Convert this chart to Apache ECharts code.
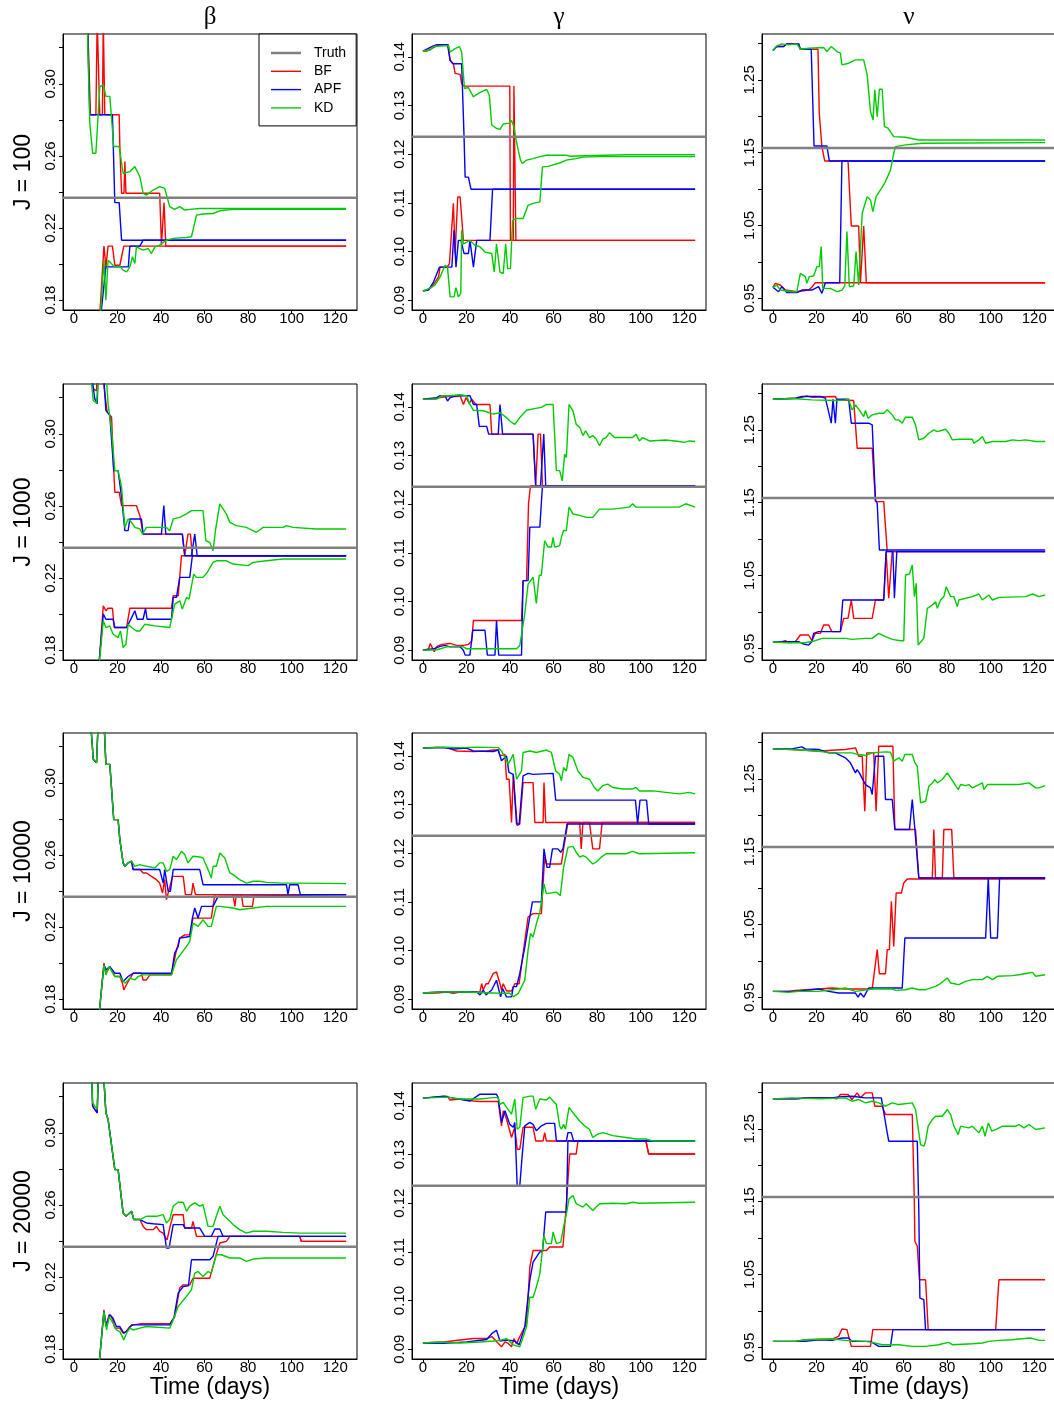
<!DOCTYPE html>
<html><head><meta charset="utf-8">
<script src="https://cdn.jsdelivr.net/npm/echarts@6/dist/echarts.min.js"></script>
<style>html,body{margin:0;padding:0;background:#fff}#c{width:1054px;height:1401px}</style>
</head><body><div id="c"></div>
<script>
// ---------------- DATA (day, value) ----------------
const X_TICKS = [0,20,40,60,80,100,120];
const BETA_TICKS = [0.18,0.20,0.22,0.24,0.26,0.28,0.30,0.32];
const BETA_LABELS = [0.18,0.22,0.26,0.30];
const GAMMA_TICKS = [0.09,0.10,0.11,0.12,0.13,0.14];
const GAMMA_LABELS = [0.09,0.10,0.11,0.12,0.13,0.14];
const NU_TICKS = [0.95,1.00,1.05,1.10,1.15,1.20,1.25,1.30];
const NU_LABELS = [0.95,1.05,1.15,1.25];
const PARAMS = ['β','γ','ν'];
const J_LABELS = ['J = 100','J = 1000','J = 10000','J = 20000'];
const TRUTH = [0.2368, 0.1236, 1.1565];
const METHODS = ['BF','APF','KD'];

// beta, J=100
const b100_bf_hi = [[0,0.42],[6.3,0.335],[7.6,0.2828],[10.1,0.2828],[10.7,0.335],[11.3,0.335],[11.9,0.2828],[13.1,0.2828],[13.5,0.335],[13.8,0.335],[14.2,0.2828],[20.8,0.2828],[21.1,0.2652],[21.9,0.2393],[23.0,0.2393],[23.4,0.2569],[23.9,0.2393],[39.4,0.2393],[40.2,0.2106],[41.0,0.2106],[41.4,0.2341],[42.2,0.21],[125,0.21]];
const b100_bf_lo = [[0,0.14],[11.9,0.172],[13.8,0.21],[14.7,0.1985],[15.7,0.21],[17.7,0.21],[18.8,0.1994],[21.1,0.1994],[22.9,0.21],[125,0.21]];
const b100_apf_hi = [[0,0.42],[6.2,0.335],[7.3,0.2828],[17.7,0.2828],[18.8,0.2341],[20.8,0.2341],[21.9,0.2133],[125,0.2133]];
const b100_apf_lo = [[0,0.14],[12.4,0.172],[14.7,0.1985],[25.0,0.1985],[25.7,0.21],[30.3,0.21],[31.8,0.2133],[125,0.2133]];
const b100_kd_hi = [[0,0.42],[6.1,0.335],[7.3,0.2781],[8.6,0.2615],[10.1,0.2615],[11.9,0.2985],[13.5,0.2994],[14.7,0.293],[16.5,0.293],[18.3,0.2652],[20.8,0.2652],[21.4,0.2661],[22.6,0.2504],[25.7,0.2513],[28.0,0.2541],[30.3,0.2485],[31.8,0.2393],[33.3,0.2383],[36.4,0.2411],[39.4,0.243],[41.7,0.242],[44.0,0.2319],[46.3,0.2304],[48.6,0.2319],[50.9,0.2300],[53.2,0.2304],[57.8,0.2309],[125,0.2309]];
const b100_kd_lo = [[0,0.14],[12.2,0.172],[13.8,0.2022],[14.7,0.18],[15.7,0.2022],[18.8,0.1985],[21.1,0.1989],[22.6,0.1967],[24.2,0.1957],[25.7,0.1985],[26.9,0.2041],[28.0,0.2004],[28.7,0.2096],[31.8,0.2078],[34.1,0.2087],[35.6,0.2059],[37.2,0.2096],[39.4,0.2106],[42.5,0.2133],[45.6,0.2143],[51.7,0.2148],[54.0,0.2152],[56.3,0.2272],[59.3,0.2278],[63.9,0.2281],[67.0,0.2296],[73.1,0.2304],[125,0.2304]];

// gamma, J=100
const g100_bf_hi = [[0,0.1412],[1.8,0.1412],[4.1,0.1417],[5.6,0.1421],[7.9,0.1424],[11.7,0.1425],[12.5,0.1393],[14.0,0.1386],[14.8,0.1366],[17.1,0.1364],[17.8,0.1345],[18.9,0.134],[39.9,0.134],[40.2,0.1023],[41.5,0.1023],[41.8,0.134],[42.2,0.134],[42.7,0.1023],[125,0.1023]];
const g100_bf_lo = [[0,0.0919],[1.8,0.0921],[4.1,0.0927],[7.2,0.0948],[7.9,0.0968],[11.0,0.0968],[12.2,0.0975],[14.0,0.1099],[14.8,0.0996],[16.0,0.1112],[17.1,0.1112],[18.6,0.1023],[125,0.1023]];
const g100_apf_hi = [[0,0.1412],[4.1,0.1421],[6.4,0.1425],[11.3,0.1425],[12.5,0.1393],[13.7,0.1386],[17.8,0.1386],[18.9,0.1236],[19.4,0.1153],[20.9,0.1153],[22.1,0.1128],[125,0.1128]];
const g100_apf_lo = [[0,0.0919],[2.6,0.0921],[4.9,0.0938],[7.6,0.0968],[13.3,0.0968],[14.3,0.1044],[15.2,0.0968],[16.3,0.1023],[17.5,0.1023],[18.9,0.0996],[20.9,0.0996],[21.6,0.1023],[23.2,0.0968],[24.7,0.1023],[30.8,0.1023],[32.0,0.1128],[125,0.1128]];
const g100_kd_hi = [[0,0.1412],[3.4,0.1414],[4.9,0.1421],[9.5,0.1423],[11.7,0.1423],[12.5,0.141],[14.8,0.1417],[16.8,0.1421],[17.8,0.141],[19.1,0.1335],[20.9,0.1337],[23.2,0.1318],[23.9,0.1314],[25.5,0.1325],[27.7,0.133],[29.3,0.1333],[30.5,0.1321],[31.6,0.126],[33.8,0.1253],[35.4,0.1251],[36.9,0.1262],[39.9,0.1264],[40.7,0.127],[41.8,0.1256],[43.0,0.1225],[43.8,0.1222],[44.8,0.1188],[45.7,0.1181],[47.6,0.1188],[50.6,0.1191],[53.7,0.1195],[56.7,0.1198],[65.9,0.1198],[67.4,0.1196],[74.7,0.1197],[93.3,0.1199],[125,0.1199]];
const g100_kd_lo = [[0,0.0919],[1.8,0.0922],[5.6,0.0931],[7.9,0.0948],[10.2,0.0972],[11.3,0.0968],[12.5,0.0907],[14.3,0.0907],[15.2,0.0926],[16.3,0.0907],[17.4,0.0914],[17.8,0.1044],[18.6,0.1016],[21.6,0.1023],[23.9,0.1013],[26.2,0.101],[28.5,0.0999],[31.6,0.0996],[32.8,0.0958],[33.8,0.1016],[35.4,0.0958],[36.9,0.0955],[38.0,0.1016],[38.9,0.0965],[40.2,0.0965],[41.2,0.1064],[43.0,0.1068],[46.0,0.1068],[48.3,0.1095],[50.6,0.1099],[53.7,0.1102],[54.9,0.1174],[57.5,0.1175],[62.8,0.1182],[65.9,0.1188],[70.4,0.1191],[73.5,0.1194],[81.1,0.1195],[125,0.1195]];

// nu, J=100
const n100_bf_hi = [[0,1.2903],[1.8,1.2958],[4.9,1.2958],[6.4,1.2995],[11.8,1.2995],[12.6,1.2921],[20.7,1.2921],[21.3,1.2042],[22.5,1.1584],[23.8,1.1387],[34.5,1.1387],[36.0,1.0494],[39.4,1.0494],[40.2,0.9715],[41.0,0.9715],[41.7,1.0494],[42.9,0.9715],[125,0.9715]];
const n100_bf_lo = [[0,0.9652],[1.1,0.9706],[3.4,0.9683],[5.7,0.9614],[11.0,0.9591],[16.4,0.9614],[17.9,0.9652],[19.5,0.9715],[125,0.9715]];
const n100_apf_hi = [[0,1.2903],[1.8,1.2958],[4.9,1.2958],[6.4,1.2995],[11.8,1.2995],[12.6,1.2921],[17.6,1.2921],[18.9,1.1593],[24.8,1.1593],[25.9,1.1387],[125,1.1387]];
const n100_apf_lo = [[0,0.9652],[2.6,0.9591],[4.1,0.9661],[6.4,0.9578],[11.0,0.9578],[13.3,0.9614],[17.9,0.9614],[21.0,0.9661],[22.5,0.9568],[24.1,0.9715],[30.7,0.9715],[31.7,1.1387],[125,1.1387]];
const n100_kd_hi = [[0,1.2903],[1.8,1.2967],[4.1,1.2995],[7.2,1.2981],[11.0,1.2995],[12.6,1.2921],[16.4,1.2935],[23.3,1.2944],[24.8,1.2889],[26.8,1.2958],[29.4,1.2889],[31.0,1.2866],[31.7,1.2706],[34.8,1.2729],[37.9,1.2775],[41.7,1.2775],[43.3,1.2569],[44.8,1.2065],[46.0,1.195],[46.8,1.2363],[47.9,1.1996],[48.9,1.2372],[50.2,1.2372],[51.2,1.1859],[52.9,1.1836],[55.5,1.1721],[60.9,1.1712],[67.0,1.1675],[125,1.1675]];
const n100_kd_lo = [[0,0.9652],[1.8,0.9683],[3.4,0.9614],[8.7,0.9591],[11.0,0.9591],[12.6,0.9843],[14.9,0.9798],[15.6,0.9706],[16.7,0.9798],[18.7,0.9807],[20.2,0.9935],[21.3,0.9935],[22.2,1.021],[22.9,0.9637],[26.4,0.9637],[29.4,0.9591],[31.7,0.9614],[33.0,0.967],[34.0,1.0416],[35.1,0.9661],[37.1,0.967],[38.2,1.0141],[39.4,0.9683],[40.2,0.9683],[41.0,1.0668],[43.3,1.0897],[44.8,1.0851],[45.9,1.0691],[47.4,1.0897],[49.4,1.0988],[51.7,1.1103],[54.0,1.1263],[55.5,1.1492],[56.3,1.1584],[60.9,1.1607],[68.6,1.163],[125,1.1639]];

// beta, J=1000
const b1k_bf_hi = [[0,0.42],[7.3,0.335],[8.9,0.325],[10.4,0.3237],[10.7,0.335],[13.1,0.335],[14.2,0.3222],[15.3,0.312],[17.3,0.3093],[18.3,0.2796],[18.8,0.2676],[20.8,0.2676],[21.9,0.2602],[28.7,0.2602],[30.3,0.2546],[31.8,0.2444],[49.8,0.2444],[50.9,0.2324],[52.4,0.2444],[53.5,0.2444],[54.4,0.2324],[125,0.2324]];
const b1k_bf_lo = [[0,0.14],[11.5,0.172],[13.5,0.2046],[14.7,0.2019],[15.7,0.2033],[17.7,0.2033],[18.5,0.1926],[24.2,0.1926],[25.7,0.2033],[44.8,0.2033],[45.6,0.2102],[47.9,0.2102],[49.4,0.2324],[125,0.2324]];
const b1k_apf_hi = [[0,0.42],[7.8,0.335],[9.6,0.3194],[10.7,0.3167],[11.2,0.335],[13.5,0.335],[14.7,0.313],[16.5,0.3102],[18.3,0.2796],[20.3,0.2796],[21.9,0.2648],[23.4,0.2463],[24.9,0.2463],[25.7,0.2528],[31.0,0.2528],[31.8,0.2444],[40.2,0.2444],[41.3,0.2602],[42.2,0.2444],[49.8,0.2444],[50.9,0.2324],[54.0,0.2324],[55.5,0.2444],[56.6,0.2324],[125,0.2324]];
const b1k_apf_lo = [[0,0.14],[11.5,0.172],[13.5,0.2],[14.7,0.1972],[18.0,0.1972],[18.8,0.1926],[24.2,0.1926],[26.5,0.1981],[27.2,0.1972],[28.0,0.2019],[29.1,0.1972],[31.8,0.1972],[32.9,0.2033],[33.6,0.1972],[44.8,0.1972],[45.6,0.2093],[47.1,0.2093],[48.6,0.2204],[53.2,0.2204],[54.4,0.2324],[125,0.2324]];
const b1k_kd_hi = [[0,0.42],[7.5,0.335],[8.9,0.3185],[10.4,0.317],[11.5,0.335],[14.7,0.335],[15.7,0.3167],[17.3,0.3019],[18.8,0.2796],[20.3,0.2796],[21.9,0.2704],[23.4,0.2481],[24.9,0.2528],[26.5,0.2509],[28.0,0.2481],[30.3,0.2472],[31.5,0.2444],[33.3,0.2481],[42.5,0.2481],[44.0,0.2463],[45.6,0.2528],[48.6,0.2537],[51.7,0.2556],[54.0,0.2574],[59.3,0.2574],[60.6,0.2407],[62.4,0.2398],[63.9,0.2352],[65.1,0.2472],[65.7,0.2463],[67.0,0.2611],[70.0,0.2556],[71.6,0.2509],[74.6,0.2491],[79.2,0.2481],[83.8,0.2454],[86.9,0.2481],[96.0,0.2481],[97.6,0.2491],[100.6,0.2481],[111.3,0.2472],[125,0.2472]];
const b1k_kd_lo = [[0,0.14],[11.6,0.172],[13.5,0.1963],[14.7,0.1926],[16.5,0.1935],[18.0,0.1889],[20.3,0.187],[21.4,0.1907],[22.6,0.1815],[23.9,0.1833],[24.9,0.1944],[26.5,0.1926],[28.7,0.1907],[30.3,0.1907],[32.6,0.1944],[37.2,0.1935],[44.0,0.1926],[46.3,0.2056],[48.6,0.2074],[49.8,0.2028],[51.7,0.2093],[52.9,0.2083],[55.0,0.2222],[56.3,0.2204],[59.3,0.2204],[61.2,0.2231],[63.9,0.2287],[65.4,0.2296],[70.0,0.2296],[73.1,0.2278],[80.0,0.2269],[82.3,0.2287],[88.4,0.2296],[96.0,0.2306],[125,0.2306]];

// gamma, J=1000
const g1k_bf_hi = [[0,0.1416],[4.9,0.1416],[7.9,0.1419],[11.0,0.1421],[15.5,0.1421],[17.1,0.1423],[18.6,0.1405],[19.8,0.1419],[21.3,0.1407],[22.4,0.1416],[24.4,0.1405],[30.8,0.1405],[31.6,0.1344],[50.6,0.1344],[51.8,0.1238],[52.9,0.1344],[54.0,0.1344],[54.9,0.1238],[125,0.1238]];
const g1k_bf_lo = [[0,0.09],[2.6,0.0903],[3.4,0.0914],[5.2,0.0897],[6.4,0.0908],[8.7,0.0912],[12.5,0.0914],[15.5,0.091],[18.6,0.091],[20.9,0.0912],[22.4,0.0919],[23.2,0.0961],[45.3,0.0961],[46.0,0.1043],[47.6,0.1043],[48.5,0.1201],[49.4,0.1238],[125,0.1238]];
const g1k_apf_hi = [[0,0.1416],[6.4,0.1419],[7.9,0.1423],[10.2,0.1423],[11.3,0.1412],[12.5,0.1419],[15.5,0.1423],[21.6,0.1423],[23.2,0.1405],[24.7,0.1405],[25.9,0.136],[29.3,0.136],[30.2,0.1344],[34.6,0.1344],[35.4,0.1405],[36.6,0.1344],[50.6,0.1344],[51.8,0.1238],[54.0,0.1238],[55.5,0.1344],[56.4,0.1238],[125,0.1238]];
const g1k_apf_lo = [[0,0.09],[4.9,0.0903],[7.9,0.0908],[10.2,0.0910],[12.5,0.0907],[17.1,0.0907],[18.6,0.09],[19.4,0.089],[21.6,0.089],[22.9,0.0941],[28.5,0.0941],[29.6,0.089],[33.1,0.089],[33.8,0.0961],[34.8,0.089],[45.3,0.089],[46.0,0.1043],[48.3,0.1043],[49.1,0.1153],[53.7,0.1153],[54.9,0.1238],[125,0.1238]];
const g1k_kd_hi = [[0,0.1416],[6.4,0.1416],[8.7,0.1423],[12.5,0.1423],[17.1,0.1425],[20.1,0.1423],[21.6,0.1405],[23.2,0.1393],[27.7,0.1392],[32.3,0.1385],[35.4,0.1388],[38.4,0.1378],[39.9,0.1371],[42.2,0.1364],[44.5,0.1378],[47.6,0.1393],[51.8,0.1397],[54.4,0.1399],[56.7,0.1405],[59.8,0.1405],[61.3,0.1269],[62.8,0.1269],[64.0,0.1248],[65.1,0.1303],[65.9,0.1296],[67.1,0.1405],[68.9,0.1392],[70.4,0.1364],[72.0,0.1358],[73.5,0.1341],[74.7,0.1351],[76.5,0.1337],[78.0,0.1341],[79.6,0.1334],[81.1,0.132],[82.6,0.1334],[84.1,0.1337],[85.7,0.1347],[88.0,0.1337],[96.3,0.1337],[97.9,0.1344],[99.4,0.133],[100.9,0.1337],[104.0,0.133],[111.6,0.1332],[117.7,0.1329],[120.0,0.1327],[122.3,0.133],[125,0.1329]];
const g1k_kd_lo = [[0,0.09],[6.4,0.0901],[11.0,0.0907],[14.0,0.0908],[17.1,0.0908],[18.6,0.0907],[20.1,0.0903],[43.0,0.0903],[44.5,0.091],[46.8,0.0975],[48.3,0.1036],[50.6,0.1050],[52.1,0.0996],[53.4,0.1054],[54.4,0.1054],[55.9,0.1125],[57.5,0.1112],[59.0,0.1112],[59.8,0.1132],[60.5,0.1112],[62.8,0.1115],[63.6,0.1132],[64.6,0.1146],[65.9,0.1146],[67.1,0.1194],[68.9,0.118],[72.0,0.1177],[75.0,0.1173],[78.0,0.1173],[81.1,0.119],[87.2,0.119],[94.8,0.1194],[96.3,0.1201],[97.9,0.1194],[117.7,0.1194],[120.7,0.1201],[125,0.1194]];

// nu, J=1000
const n1k_bf_hi = [[0,1.2921],[11.8,1.2935],[15.6,1.2967],[17.9,1.2949],[28.7,1.2958],[29.4,1.2912],[37.1,1.2903],[38.7,1.2248],[45.6,1.2248],[47.1,1.1515],[50.9,1.1515],[52.5,1.0828],[125,1.0828]];
const n1k_bf_lo = [[0,0.9591],[4.1,0.9591],[5.7,0.9605],[7.2,0.9577],[10.3,0.9591],[12.6,0.9683],[16.4,0.9683],[17.9,0.9605],[19.5,0.9706],[21.8,0.9706],[23.3,0.982],[25.6,0.982],[27.1,0.9729],[31.0,0.9729],[32.5,0.9912],[34.5,0.9912],[36.0,1.0164],[37.1,0.9912],[45.6,0.9912],[47.1,1.0164],[50.9,1.0164],[52.0,1.0828],[52.6,1.0828],[53.2,1.0187],[54.1,1.0187],[54.8,1.0828],[125,1.0828]];
const n1k_apf_hi = [[0,1.2921],[10.3,1.2935],[13.3,1.2958],[21.8,1.2958],[24.1,1.2935],[26.8,1.2592],[27.6,1.2921],[28.7,1.2592],[29.4,1.2921],[34.8,1.2921],[36.0,1.2592],[44.0,1.2592],[45.6,1.2569],[47.1,1.1538],[47.9,1.1492],[48.9,1.0851],[125,1.0851]];
const n1k_apf_lo = [[0,0.9591],[11.8,0.9591],[14.1,0.9559],[16.4,0.9545],[17.9,0.9591],[18.7,0.9706],[21.0,0.9729],[31.0,0.9729],[32.1,1.0164],[50.9,1.0164],[52.0,1.0828],[55.1,1.0828],[55.8,1.0187],[56.9,1.0828],[125,1.0828]];
const n1k_kd_hi = [[0,1.2921],[8.7,1.2931],[17.9,1.2912],[28.7,1.2903],[33.3,1.2912],[34.8,1.2921],[36.3,1.2775],[37.9,1.2844],[40.2,1.2752],[41.7,1.2683],[42.5,1.2766],[43.7,1.266],[45.6,1.2706],[48.6,1.2729],[50.9,1.2729],[52.5,1.2775],[54.8,1.2706],[56.3,1.2637],[57.8,1.2637],[59.4,1.2592],[60.9,1.2674],[64.0,1.2674],[65.5,1.2569],[67.0,1.2363],[69.3,1.2385],[71.6,1.2454],[73.9,1.25],[75.5,1.2477],[79.3,1.2509],[80.8,1.2454],[82.4,1.2363],[85.4,1.2372],[91.6,1.2372],[92.3,1.2317],[94.6,1.2363],[96.2,1.2408],[97.7,1.2317],[100.8,1.234],[106.9,1.234],[110.0,1.2363],[113.0,1.2353],[116.1,1.2363],[120.7,1.234],[125,1.234]];
const n1k_kd_lo = [[0,0.9591],[5.7,0.9577],[14.9,0.9577],[19.5,0.9605],[22.5,0.9637],[33.3,0.9637],[36.3,0.9623],[42.5,0.9637],[45.6,0.9637],[48.6,0.9706],[51.7,0.966],[54.8,0.9623],[58.6,0.9605],[60.1,0.9605],[60.9,1.0507],[62.7,1.0521],[64.0,1.0645],[65.0,1.0210],[65.8,1.0393],[66.7,0.9545],[69.3,0.9637],[70.9,1.0049],[73.2,1.0095],[74.7,1.0141],[75.5,1.0049],[77.0,1.0164],[78.5,1.021],[79.6,1.0347],[81.6,1.021],[83.1,1.021],[84.7,1.0072],[85.4,1.0164],[91.6,1.021],[94.6,1.0246],[96.2,1.0164],[99.2,1.0232],[100.8,1.0164],[103.8,1.02],[116.1,1.021],[119.2,1.0246],[122.2,1.021],[125,1.0232]];

// beta, J=10000
const b10k_bf_hi = [[0,0.42],[7.6,0.335],[8.9,0.313],[10.4,0.3111],[11.2,0.335],[13.8,0.335],[14.7,0.3102],[16.5,0.3102],[18.3,0.2796],[20.3,0.2796],[21.1,0.2685],[22.6,0.2556],[23.4,0.2537],[24.9,0.2556],[26.5,0.2565],[27.2,0.2519],[30.3,0.2519],[31.8,0.25],[33.3,0.25],[35.6,0.2481],[37.9,0.2463],[39.4,0.2444],[40.7,0.2389],[41.7,0.2463],[42.5,0.2352],[43.3,0.2352],[45.3,0.2481],[50.2,0.2481],[51.2,0.238],[54.0,0.238],[54.7,0.2444],[55.8,0.238],[125,0.238]];
const b10k_bf_lo = [[0,0.14],[11.6,0.172],[13.8,0.2],[14.7,0.1944],[16.5,0.1981],[18.8,0.1926],[21.1,0.1926],[22.3,0.1889],[22.9,0.1852],[24.5,0.1889],[27.2,0.1944],[31.0,0.1944],[31.8,0.1907],[33.3,0.1907],[34.9,0.1935],[44.8,0.1935],[46.8,0.2056],[48.6,0.2139],[50.9,0.2157],[53.2,0.2157],[54.7,0.225],[63.1,0.225],[64.7,0.238],[73.1,0.238],[73.9,0.2315],[74.6,0.238],[76.9,0.238],[77.7,0.2315],[82.0,0.2315],[82.7,0.238],[125,0.238]];
const b10k_apf_hi = [[0,0.42],[7.6,0.335],[8.9,0.313],[10.4,0.3111],[11.2,0.335],[13.8,0.335],[14.7,0.3102],[16.5,0.3102],[18.3,0.2796],[20.3,0.2796],[21.1,0.2685],[22.6,0.2556],[23.4,0.2537],[24.9,0.2556],[26.5,0.2565],[27.2,0.2519],[39.4,0.2519],[41.0,0.2444],[41.7,0.2519],[43.3,0.2398],[44.3,0.2398],[45.6,0.2519],[57.8,0.2519],[59.3,0.2435],[97.6,0.2435],[98.3,0.238],[99.1,0.2435],[102.9,0.2435],[104.0,0.238],[125,0.238]];
const b10k_apf_lo = [[0,0.14],[11.6,0.172],[13.8,0.1991],[14.7,0.1963],[16.5,0.1981],[18.8,0.1944],[21.1,0.1944],[22.6,0.1898],[23.4,0.1889],[24.9,0.1926],[27.2,0.1944],[44.8,0.1944],[46.3,0.2056],[47.9,0.2093],[48.6,0.2139],[53.2,0.2148],[54.4,0.225],[55.5,0.2306],[57.0,0.225],[58.6,0.2315],[63.9,0.2315],[66.2,0.237],[125,0.238]];
const b10k_kd_hi = [[0,0.42],[7.6,0.335],[8.9,0.313],[10.4,0.3111],[11.2,0.335],[13.8,0.335],[14.7,0.3102],[16.5,0.3102],[18.3,0.2796],[20.3,0.2796],[21.1,0.2685],[22.6,0.2556],[23.4,0.2537],[24.9,0.2556],[26.5,0.2565],[28.0,0.2537],[30.3,0.2546],[33.3,0.2537],[37.2,0.2528],[39.4,0.2556],[41.0,0.2556],[42.5,0.2509],[44.0,0.2519],[45.6,0.2593],[47.1,0.2574],[49.4,0.262],[50.9,0.2602],[52.4,0.2556],[54.7,0.2593],[57.8,0.2589],[59.3,0.2583],[61.6,0.2519],[63.1,0.2472],[63.9,0.2537],[65.4,0.2537],[67.0,0.2611],[69.3,0.2583],[71.6,0.25],[73.1,0.2491],[76.1,0.2463],[79.2,0.2444],[82.3,0.2454],[85.3,0.2454],[88.4,0.2448],[96.0,0.2444],[103.7,0.2444],[125,0.2441]];
const b10k_kd_lo = [[0,0.14],[11.6,0.172],[13.8,0.1991],[14.7,0.1935],[16.2,0.1981],[18.8,0.1926],[21.1,0.1926],[23.4,0.1889],[25.7,0.1917],[28.0,0.1907],[29.5,0.1926],[31.8,0.1935],[44.8,0.1935],[47.1,0.2019],[49.4,0.2056],[51.7,0.2093],[53.2,0.212],[54.7,0.2222],[57.0,0.2204],[59.3,0.2241],[61.6,0.2204],[63.1,0.2204],[65.4,0.2315],[67.0,0.2315],[73.1,0.2306],[76.1,0.2296],[82.3,0.2306],[88.4,0.2315],[125,0.2315]];

// gamma, J=10000
const g10k_bf_hi = [[0,0.1416],[6.4,0.1418],[11.0,0.1417],[15.5,0.141],[23.2,0.1409],[29.3,0.141],[32.3,0.1412],[34.6,0.1412],[35.4,0.14],[37.7,0.1403],[38.4,0.1352],[39.6,0.1352],[40.7,0.1263],[41.5,0.1362],[42.2,0.1362],[43.3,0.1257],[44.5,0.126],[46.0,0.1345],[50.6,0.1345],[51.4,0.1263],[55.2,0.1263],[55.6,0.1345],[56.4,0.1263],[125,0.1263]];
const g10k_bf_lo = [[0,0.0913],[6.4,0.0913],[11.0,0.0915],[14.0,0.0912],[17.1,0.0915],[26.2,0.0915],[27.0,0.0932],[27.7,0.0919],[29.0,0.0932],[30.0,0.0932],[32.3,0.0953],[33.8,0.0956],[35.4,0.0932],[36.1,0.0919],[36.9,0.0932],[38.4,0.0917],[40.7,0.0917],[42.2,0.0932],[44.2,0.0932],[46.0,0.0994],[48.3,0.1069],[50.6,0.1076],[54.4,0.1076],[55.9,0.1192],[56.7,0.1178],[63.6,0.1178],[64.6,0.1209],[65.5,0.1209],[66.6,0.1263],[72.0,0.1263],[72.7,0.1209],[73.5,0.1263],[76.5,0.1263],[78.0,0.1209],[81.1,0.1209],[82.3,0.1263],[125,0.1263]];
const g10k_apf_hi = [[0,0.1416],[9.5,0.1417],[14.0,0.1414],[20.1,0.1416],[23.2,0.141],[32.3,0.1409],[34.6,0.1412],[36.1,0.139],[38.4,0.14],[39.5,0.1366],[41.5,0.1362],[42.2,0.1366],[43.0,0.126],[44.2,0.126],[46.0,0.1359],[48.3,0.1364],[50.6,0.1362],[59.8,0.1364],[61.0,0.1309],[97.6,0.1309],[98.6,0.126],[99.7,0.1309],[102.7,0.1309],[103.7,0.126],[125,0.126]];
const g10k_apf_lo = [[0,0.0913],[7.9,0.0915],[24.7,0.0915],[26.2,0.0909],[27.7,0.0919],[29.0,0.0909],[31.6,0.0919],[33.8,0.0939],[35.7,0.0905],[36.6,0.0922],[37.2,0.0922],[38.4,0.0905],[40.7,0.0905],[41.5,0.0926],[43.0,0.0926],[44.5,0.0953],[46.8,0.1007],[48.3,0.1048],[50.3,0.11],[54.4,0.11],[55.6,0.1209],[57.0,0.1171],[58.2,0.1171],[59.5,0.1209],[62.0,0.1209],[63.3,0.1202],[64.3,0.1209],[66.2,0.126],[125,0.126]];
const g10k_kd_hi = [[0,0.1416],[9.5,0.1418],[17.1,0.1417],[24.7,0.1418],[34.6,0.1417],[36.1,0.141],[37.7,0.1397],[39.2,0.1383],[41.5,0.1403],[43.0,0.1352],[45.3,0.1369],[46.0,0.1407],[49.1,0.141],[52.1,0.1407],[56.7,0.1412],[59.0,0.1407],[59.8,0.1403],[61.0,0.1369],[62.8,0.1362],[63.6,0.1349],[64.6,0.1376],[65.9,0.1369],[67.1,0.1403],[68.9,0.1397],[71.2,0.1369],[73.5,0.1356],[76.5,0.1352],[78.8,0.1335],[80.3,0.1328],[82.6,0.1339],[84.9,0.1342],[87.2,0.1335],[91.8,0.1332],[96.3,0.1332],[97.9,0.1335],[99.4,0.1328],[105.5,0.1328],[111.6,0.1325],[117.7,0.1322],[122.3,0.1325],[125,0.1322]];
const g10k_kd_lo = [[0,0.0913],[7.9,0.0915],[20.1,0.0915],[32.3,0.0913],[36.9,0.0912],[39.6,0.0913],[41.5,0.0905],[43.8,0.0912],[46.8,0.0939],[48.3,0.1001],[49.4,0.1035],[50.6,0.1028],[52.1,0.1055],[53.7,0.1079],[55.6,0.1137],[56.7,0.1117],[61.3,0.112],[63.1,0.1113],[64.6,0.1171],[66.6,0.1212],[68.9,0.1214],[70.4,0.1202],[72.0,0.1192],[73.5,0.1195],[75.0,0.1192],[78.0,0.1178],[79.6,0.1182],[81.9,0.1192],[84.1,0.1199],[93.3,0.1199],[96.3,0.1204],[99.4,0.1199],[125,0.1201]];

// nu, J=10000
const n10k_bf_hi = [[0,1.2912],[8.7,1.2903],[14.9,1.2894],[21.0,1.288],[27.1,1.2894],[33.3,1.2903],[37.9,1.2926],[39.4,1.2811],[41.0,1.2811],[42.2,1.2056],[43.1,1.2857],[46.3,1.2857],[47.4,1.2056],[48.6,1.2949],[55.1,1.2949],[56.0,1.1804],[65.5,1.1804],[67.0,1.1139],[73.2,1.1139],[73.9,1.1804],[74.7,1.1139],[77.8,1.1139],[78.5,1.1804],[82.1,1.1804],[83.1,1.1139],[125,1.1139]];
const n10k_bf_lo = [[0,0.9582],[7.2,0.9582],[10.3,0.9596],[14.9,0.9605],[21.0,0.9614],[27.1,0.9628],[33.3,0.9614],[45.6,0.9614],[47.9,1.0155],[48.9,0.9825],[51.7,0.9825],[52.5,1.0155],[53.5,1.0155],[54.4,1.0819],[55.5,1.0200],[56.6,1.0933],[59.0,1.0933],[60.1,1.1071],[61.7,1.1126],[125,1.1126]];
const n10k_apf_hi = [[0,1.2912],[8.7,1.2912],[13.3,1.294],[14.9,1.2912],[21.0,1.2903],[25.6,1.2857],[28.7,1.2857],[33.3,1.2789],[35.6,1.272],[37.9,1.2582],[38.7,1.2628],[39.7,1.2582],[42.5,1.2422],[44.8,1.2376],[45.6,1.2285],[47.1,1.2811],[50.9,1.2811],[51.7,1.2216],[54.8,1.2216],[56.0,1.1804],[62.7,1.1804],[64.0,1.2216],[65.2,1.1804],[65.8,1.1804],[67.0,1.1139],[125,1.1139]];
const n10k_apf_lo = [[0,0.9582],[10.3,0.9582],[14.9,0.9596],[21.0,0.9614],[25.6,0.9582],[30.2,0.9559],[37.9,0.9559],[39.1,0.9504],[40.2,0.9559],[41.7,0.9504],[44.0,0.9628],[59.4,0.9628],[60.6,1.0315],[97.7,1.0315],[98.9,1.1139],[100.0,1.0315],[103.1,1.0315],[104.1,1.1139],[125,1.1139]];
const n10k_kd_hi = [[0,1.2912],[8.7,1.2903],[14.9,1.2894],[21.0,1.288],[27.1,1.2857],[36.3,1.2857],[39.4,1.2834],[42.5,1.2821],[45.6,1.2857],[51.7,1.2871],[54.0,1.2866],[55.5,1.2743],[57.8,1.2789],[59.4,1.2743],[60.6,1.2834],[64.0,1.2834],[65.2,1.272],[66.3,1.2674],[67.8,1.217],[68.6,1.2147],[70.1,1.2193],[71.6,1.2399],[73.2,1.2445],[74.4,1.2491],[75.5,1.2445],[77.8,1.2491],[80.1,1.2582],[81.6,1.2514],[83.1,1.2445],[85.1,1.2353],[86.2,1.2422],[88.5,1.2408],[90.0,1.2422],[91.6,1.2376],[94.6,1.2422],[96.2,1.2445],[96.9,1.2353],[98.5,1.2422],[113.0,1.2422],[117.6,1.2445],[120.7,1.2376],[122.2,1.2376],[125,1.2408]];
const n10k_kd_lo = [[0,0.9582],[7.2,0.9568],[11.8,0.9582],[21.0,0.9582],[30.2,0.9614],[33.3,0.9628],[37.9,0.9582],[45.6,0.9614],[54.8,0.9614],[56.3,0.9596],[60.9,0.9605],[64.0,0.9628],[67.0,0.9605],[70.1,0.9605],[74.7,0.9651],[76.2,0.9674],[80.1,0.9766],[81.6,0.9697],[85.4,0.9674],[88.5,0.972],[91.6,0.9743],[96.2,0.9743],[98.5,0.9789],[100.8,0.9743],[103.1,0.9789],[110.0,0.9798],[113.0,0.9811],[117.6,0.9834],[119.2,0.9843],[120.7,0.9789],[125,0.9811]];

// beta, J=20000
const b20k_bf_hi = [[0,0.42],[8.1,0.335],[8.6,0.3148],[9.6,0.313],[10.7,0.3111],[11.3,0.335],[13.5,0.335],[14.7,0.3111],[15.7,0.3074],[16.5,0.3065],[18.8,0.2796],[20.3,0.2796],[22.6,0.2556],[23.9,0.2537],[26.5,0.2565],[27.5,0.2519],[30.3,0.2519],[31.8,0.2481],[33.3,0.2463],[36.4,0.2463],[37.9,0.2481],[39.4,0.2454],[41.0,0.2444],[41.7,0.2426],[42.8,0.2407],[44.0,0.2472],[45.6,0.2546],[50.2,0.2546],[50.9,0.2472],[54.0,0.2472],[54.7,0.2509],[56.3,0.2426],[103.7,0.2426],[104.4,0.2398],[125,0.2398]];
const b20k_bf_lo = [[0,0.14],[11.6,0.172],[13.8,0.2019],[14.7,0.1926],[16.2,0.1991],[17.3,0.1981],[18.8,0.1917],[21.1,0.1917],[22.6,0.1889],[23.9,0.1898],[25.7,0.1926],[27.2,0.1935],[30.3,0.1941],[44.0,0.1941],[46.3,0.1981],[48.6,0.2139],[50.2,0.2157],[53.2,0.2157],[54.7,0.2194],[62.4,0.2194],[65.1,0.2315],[67.0,0.2389],[70.0,0.2398],[71.6,0.2426],[103.7,0.2426],[104.4,0.2398],[125,0.2398]];
const b20k_apf_hi = [[0,0.42],[8.1,0.335],[8.6,0.3148],[9.6,0.313],[10.7,0.3111],[11.3,0.335],[13.5,0.335],[14.7,0.3111],[15.7,0.3074],[16.5,0.3065],[18.8,0.2796],[20.3,0.2796],[22.6,0.2556],[23.9,0.2537],[26.5,0.2565],[27.5,0.2519],[30.3,0.2519],[33.3,0.25],[36.4,0.2496],[41.0,0.2491],[42.5,0.2361],[43.7,0.2361],[45.6,0.2491],[50.2,0.2491],[50.9,0.2472],[57.8,0.2472],[60.1,0.2426],[63.1,0.2426],[64.7,0.2467],[67.0,0.2467],[68.5,0.2426],[125,0.2426]];
const b20k_apf_lo = [[0,0.14],[11.6,0.172],[13.8,0.2009],[14.7,0.1935],[16.5,0.1991],[18.0,0.1972],[19.5,0.1926],[21.1,0.1926],[22.9,0.1889],[24.9,0.1907],[26.5,0.1935],[44.0,0.1935],[45.9,0.1972],[47.9,0.2111],[50.2,0.2148],[52.6,0.2152],[54.0,0.2296],[62.4,0.2296],[63.9,0.2315],[66.2,0.2426],[125,0.2426]];
const b20k_kd_hi = [[0,0.42],[8.1,0.335],[8.6,0.3167],[9.6,0.3148],[10.7,0.313],[11.3,0.335],[13.5,0.335],[14.7,0.3111],[15.7,0.3074],[16.5,0.3065],[18.8,0.2796],[20.3,0.2796],[22.6,0.2556],[23.9,0.2537],[26.5,0.2565],[27.5,0.2519],[30.3,0.2519],[33.3,0.2537],[37.9,0.2537],[41.0,0.2546],[42.5,0.25],[44.0,0.2519],[45.6,0.2593],[47.9,0.2615],[50.2,0.2615],[51.7,0.2565],[53.2,0.2593],[55.5,0.2611],[56.3,0.262],[57.8,0.2593],[59.3,0.2602],[61.6,0.2481],[63.9,0.2481],[65.4,0.2537],[67.0,0.2593],[68.5,0.2546],[71.6,0.2509],[73.1,0.2491],[76.1,0.2463],[79.2,0.2444],[82.3,0.2454],[88.4,0.2454],[96.0,0.2448],[103.7,0.2444],[125,0.2444]];
const b20k_kd_lo = [[0,0.14],[11.6,0.172],[13.8,0.2009],[15.0,0.1907],[16.2,0.1981],[18.0,0.1944],[19.5,0.1907],[21.1,0.1898],[22.9,0.1852],[24.2,0.1889],[25.7,0.1917],[27.2,0.1907],[30.3,0.1917],[33.3,0.1926],[44.0,0.1917],[45.6,0.1963],[47.9,0.2037],[51.7,0.2093],[54.0,0.213],[55.5,0.2222],[57.0,0.2231],[59.3,0.2204],[61.6,0.2231],[63.1,0.2222],[65.4,0.2324],[67.7,0.2324],[71.6,0.2306],[76.1,0.2306],[79.2,0.2287],[82.3,0.23],[88.4,0.2306],[125,0.2306]];

// gamma, J=20000
const g20k_bf_hi = [[0,0.1416],[11.0,0.142],[12.5,0.1412],[17.1,0.1414],[23.2,0.141],[26.2,0.1409],[34.6,0.1409],[36.1,0.1359],[36.9,0.139],[38.4,0.1373],[40.7,0.1335],[42.2,0.1356],[43.3,0.1311],[44.5,0.1311],[46.0,0.1356],[50.6,0.1356],[51.8,0.1328],[55.2,0.1328],[55.9,0.1345],[56.7,0.1328],[102.4,0.1328],[103.7,0.1301],[125,0.1301]];
const g20k_bf_lo = [[0,0.0913],[9.5,0.0915],[17.1,0.0919],[23.2,0.0922],[29.3,0.0922],[31.6,0.0926],[36.1,0.0905],[37.7,0.0915],[39.2,0.0912],[40.7,0.0905],[41.8,0.0922],[43.0,0.0911],[44.5,0.0926],[46.0,0.0939],[47.6,0.0953],[49.1,0.1069],[50.6,0.1103],[56.7,0.1103],[58.2,0.111],[64.3,0.111],[65.9,0.1199],[67.4,0.1301],[70.4,0.1301],[71.2,0.1328],[102.4,0.1328],[103.7,0.1301],[125,0.1301]];
const g20k_apf_hi = [[0,0.1416],[9.5,0.142],[14.0,0.1416],[21.6,0.141],[26.2,0.1424],[33.8,0.1424],[34.6,0.1417],[36.1,0.1366],[37.7,0.139],[39.9,0.1362],[41.5,0.1356],[42.2,0.1366],[43.3,0.1236],[44.5,0.1236],[45.6,0.1298],[46.8,0.1359],[49.1,0.1366],[50.6,0.1362],[52.1,0.1349],[54.4,0.1359],[56.7,0.1364],[60.5,0.1364],[61.3,0.1328],[65.9,0.1328],[66.6,0.1345],[68.1,0.1345],[69.2,0.1328],[125,0.1328]];
const g20k_apf_lo = [[0,0.0913],[9.5,0.0912],[20.1,0.0915],[29.3,0.092],[31.6,0.0932],[33.8,0.0939],[35.4,0.0917],[38.4,0.0919],[42.2,0.0917],[44.2,0.0909],[46.8,0.0946],[49.1,0.1042],[50.6,0.1079],[51.4,0.1079],[53.7,0.11],[54.9,0.11],[56.4,0.1182],[65.9,0.1182],[66.6,0.1328],[125,0.1328]];
const g20k_kd_hi = [[0,0.1416],[11.0,0.1418],[17.1,0.1414],[26.2,0.1414],[32.3,0.1417],[34.6,0.1417],[35.4,0.1403],[36.9,0.1407],[38.4,0.1397],[40.7,0.1383],[42.2,0.1414],[43.3,0.1352],[44.5,0.1356],[46.0,0.1417],[49.1,0.142],[50.6,0.142],[51.8,0.1393],[53.7,0.1414],[56.7,0.1412],[58.2,0.1418],[59.8,0.141],[61.3,0.1403],[62.8,0.1359],[63.6,0.1352],[64.6,0.1362],[65.5,0.1352],[67.1,0.1397],[68.9,0.1386],[72.0,0.1369],[74.2,0.1359],[76.5,0.1352],[78.0,0.1335],[80.3,0.1342],[82.6,0.1345],[87.2,0.1339],[93.3,0.1335],[97.9,0.1332],[102.4,0.1332],[105.5,0.1328],[125,0.1328]];
const g20k_kd_lo = [[0,0.0913],[7.2,0.0915],[17.1,0.0913],[26.2,0.0915],[32.3,0.0917],[36.1,0.0919],[38.4,0.0922],[41.5,0.0909],[44.5,0.0905],[47.6,0.0946],[49.1,0.1007],[50.6,0.1007],[52.1,0.1028],[53.7,0.1055],[55.6,0.1134],[56.7,0.1117],[59.0,0.1117],[59.8,0.1141],[61.3,0.1117],[63.3,0.112],[64.6,0.1151],[65.9,0.1178],[67.1,0.1209],[68.9,0.1216],[70.4,0.1199],[73.5,0.1192],[75.0,0.1199],[78.0,0.1185],[81.1,0.1199],[87.2,0.12],[93.3,0.1199],[96.3,0.1202],[99.4,0.12],[125,0.1202]];

// nu, J=20000
const n20k_bf_hi = [[0,1.2912],[10.3,1.2912],[13.3,1.2926],[26.4,1.2926],[29.4,1.2912],[31.0,1.2972],[34.5,1.2972],[36.3,1.2903],[38.7,1.2995],[40.2,1.2926],[42.5,1.2995],[45.6,1.2995],[46.8,1.2811],[50.2,1.2811],[51.7,1.2697],[64.0,1.2697],[64.9,1.1575],[65.2,1.0956],[66.3,1.0888],[67.3,1.0429],[70.1,1.0429],[71.3,0.9743],[102.3,0.9743],[103.8,1.0429],[125,1.0429]];
const n20k_bf_lo = [[0,0.9582],[10.3,0.9582],[14.9,0.9605],[27.1,0.9614],[30.2,0.9651],[31.7,0.9752],[34.0,0.9743],[34.8,0.9651],[36.0,0.9513],[44.8,0.9513],[45.9,0.9743],[125,0.9743]];
const n20k_apf_hi = [[0,1.2912],[11.8,1.2912],[14.9,1.2926],[27.1,1.2926],[30.2,1.294],[36.3,1.2949],[42.5,1.2926],[49.8,1.2926],[52.5,1.2445],[53.2,1.2331],[66.3,1.2331],[67.0,1.1391],[67.5,1.0177],[69.3,1.0155],[70.1,0.9743],[125,0.9743]];
const n20k_apf_lo = [[0,0.9582],[14.9,0.9582],[21.0,0.9605],[27.1,0.9596],[31.7,0.9628],[34.8,0.9628],[36.3,0.9582],[44.8,0.9582],[48.6,0.9513],[54.0,0.9513],[55.1,0.9743],[125,0.9743]];
const n20k_kd_hi = [[0,1.2912],[8.7,1.2926],[22.1,1.2912],[33.3,1.2926],[36.3,1.288],[39.4,1.2903],[42.5,1.2857],[45.6,1.288],[48.6,1.2857],[51.7,1.2811],[54.8,1.2857],[57.8,1.2834],[64.0,1.2857],[65.5,1.2766],[67.8,1.2285],[69.3,1.2262],[70.1,1.2331],[71.3,1.2537],[73.2,1.2628],[74.7,1.2674],[77.8,1.2674],[80.1,1.2766],[81.6,1.2697],[83.1,1.2537],[85.1,1.2422],[86.2,1.2537],[90.0,1.2514],[91.6,1.2537],[94.6,1.2445],[96.2,1.2537],[97.4,1.2399],[98.9,1.2582],[100.5,1.2468],[102.3,1.2491],[105.4,1.2537],[111.5,1.2537],[113.0,1.256],[115.3,1.2514],[117.6,1.256],[120.7,1.2491],[125,1.2514]];
const n20k_kd_lo = [[0,0.9582],[10.3,0.9582],[14.9,0.9605],[27.1,0.9614],[33.3,0.9596],[42.5,0.9582],[45.6,0.9568],[50.2,0.9536],[57.8,0.9536],[64.0,0.9513],[70.1,0.9513],[76.2,0.9536],[77.8,0.955],[80.8,0.9568],[82.4,0.9536],[91.6,0.955],[96.2,0.9559],[99.2,0.9582],[103.8,0.9596],[110.0,0.9605],[113.0,0.9614],[118.4,0.9628],[122.2,0.9596],[125,0.9596]];

// ---------------- LAYOUT / STYLE ----------------
const FONT = '"Liberation Sans", Arial, Helvetica, sans-serif';
const COL_LEFT = [63, 412, 762];
const ROW_TOP = [34, 384, 733, 1083];
const GW = 294, GH = 276;
const Y_MIN = [0.1746, 0.0880, 0.934];
const Y_MAX = [0.3276, 0.1447, 1.313];
const Y_TICKS = [BETA_TICKS, GAMMA_TICKS, NU_TICKS];
const Y_LABELS = [BETA_LABELS, GAMMA_LABELS, NU_LABELS];
const COLORS = {BF:'#ff0000', APF:'#0000ff', KD:'#00cd00', Truth:'#808080'};

const PANELS = [
  [[b100_bf_lo,b100_bf_hi,b100_apf_lo,b100_apf_hi,b100_kd_lo,b100_kd_hi],
   [g100_bf_lo,g100_bf_hi,g100_apf_lo,g100_apf_hi,g100_kd_lo,g100_kd_hi],
   [n100_bf_lo,n100_bf_hi,n100_apf_lo,n100_apf_hi,n100_kd_lo,n100_kd_hi]],
  [[b1k_bf_lo,b1k_bf_hi,b1k_apf_lo,b1k_apf_hi,b1k_kd_lo,b1k_kd_hi],
   [g1k_bf_lo,g1k_bf_hi,g1k_apf_lo,g1k_apf_hi,g1k_kd_lo,g1k_kd_hi],
   [n1k_bf_lo,n1k_bf_hi,n1k_apf_lo,n1k_apf_hi,n1k_kd_lo,n1k_kd_hi]],
  [[b10k_bf_lo,b10k_bf_hi,b10k_apf_lo,b10k_apf_hi,b10k_kd_lo,b10k_kd_hi],
   [g10k_bf_lo,g10k_bf_hi,g10k_apf_lo,g10k_apf_hi,g10k_kd_lo,g10k_kd_hi],
   [n10k_bf_lo,n10k_bf_hi,n10k_apf_lo,n10k_apf_hi,n10k_kd_lo,n10k_kd_hi]],
  [[b20k_bf_lo,b20k_bf_hi,b20k_apf_lo,b20k_apf_hi,b20k_kd_lo,b20k_kd_hi],
   [g20k_bf_lo,g20k_bf_hi,g20k_apf_lo,g20k_apf_hi,g20k_kd_lo,g20k_kd_hi],
   [n20k_bf_lo,n20k_bf_hi,n20k_apf_lo,n20k_apf_hi,n20k_kd_lo,n20k_kd_hi]]
];

const grids = [], xAxes = [], yAxes = [], series = [];
for (let r = 0; r < 4; r++) {
  for (let c = 0; c < 3; c++) {
    const i = r * 3 + c;
    grids.push({left: COL_LEFT[c], top: ROW_TOP[r], width: GW, height: GH,
      show: true, borderColor: '#000', borderWidth: 1, backgroundColor: 'transparent',
      containLabel: false, outerBoundsMode: 'none'});
    xAxes.push({type: 'value', gridIndex: i, position: 'bottom', min: -5, max: 130,
      axisLine: {show: true, onZero: false, lineStyle: {color: '#000', width: 1}},
      axisTick: {show: true, inside: false, length: 4, customValues: X_TICKS, lineStyle: {color: '#000', width: 1}},
      axisLabel: {customValues: X_TICKS, margin: 1, fontSize: 15, color: '#000', fontFamily: FONT},
      splitLine: {show: false},
      name: r === 3 ? 'Time (days)' : '', nameLocation: 'middle', nameGap: 15,
      nameTextStyle: {fontSize: 23, color: '#000', fontFamily: FONT}});
    yAxes.push({type: 'value', gridIndex: i, position: 'left', min: Y_MIN[c], max: Y_MAX[c],
      axisLine: {show: true, onZero: false, lineStyle: {color: '#000', width: 1}},
      axisTick: {show: true, inside: false, length: 4, customValues: Y_TICKS[c], lineStyle: {color: '#000', width: 1}},
      axisLabel: {customValues: Y_LABELS[c], rotate: 90, margin: 5, fontSize: 15, color: '#000', fontFamily: FONT,
        formatter: v => Number(v).toFixed(2)},
      splitLine: {show: false},
      name: c === 0 ? J_LABELS[r] : '', nameLocation: 'middle', nameGap: 28, nameRotate: 90,
      nameTextStyle: {fontSize: 23, color: '#000', fontFamily: FONT}});
    const lines = PANELS[r][c];
    for (let k = 0; k < 6; k++) {
      const m = METHODS[Math.floor(k / 2)];
      series.push({type: 'line', name: m, xAxisIndex: i, yAxisIndex: i, data: lines[k],
        symbol: 'none', showSymbol: false, clip: true, silent: true,
        lineStyle: {color: COLORS[m], width: 1.4}, itemStyle: {color: COLORS[m]}, z: 2});
    }
    series.push({type: 'line', name: 'Truth', xAxisIndex: i, yAxisIndex: i,
      data: [[-5, TRUTH[c]], [130, TRUTH[c]]], symbol: 'none', showSymbol: false, clip: true, silent: true,
      lineStyle: {color: COLORS.Truth, width: 2.5}, itemStyle: {color: COLORS.Truth}, z: 3});
  }
}

const graphics = PARAMS.map((p, c) => ({
  type: 'text', x: COL_LEFT[c] + GW / 2, y: 17,
  style: {text: p, font: 'normal 25px "Liberation Serif", "DejaVu Serif", serif', fill: '#000',
    textAlign: 'center', align: 'center', textVerticalAlign: 'middle', verticalAlign: 'middle'}
}));

const THIN = 'path://M0,0 L30,0 L30,1.4 L0,1.4 Z';
const THICK = 'path://M0,0 L30,0 L30,2.5 L0,2.5 Z';
const chart = echarts.init(document.getElementById('c'), null, {renderer: 'canvas'});
chart.setOption({
  animation: false,
  backgroundColor: '#fff',
  grid: grids, xAxis: xAxes, yAxis: yAxes, series: series,
  graphic: graphics,
  legend: {
    data: [
      {name: 'Truth', icon: THICK, itemStyle: {color: COLORS.Truth, borderWidth: 0}},
      {name: 'BF', icon: THIN, itemStyle: {color: COLORS.BF, borderWidth: 0}},
      {name: 'APF', icon: THIN, itemStyle: {color: COLORS.APF, borderWidth: 0}},
      {name: 'KD', icon: THIN, itemStyle: {color: COLORS.KD, borderWidth: 0}}
    ],
    orient: 'vertical', left: 259, top: 34, symbolKeepAspect: true,
    padding: [12, 10, 11, 12], itemWidth: 30, itemHeight: 14, itemGap: 4.3,
    backgroundColor: '#fff', borderColor: '#000', borderWidth: 1, borderRadius: 0,
    lineStyle: {width: 0},
    textStyle: {fontSize: 14, color: '#000', fontFamily: FONT, padding: [0, 0, 0, 8]},
    selectedMode: false
  }
});
</script></body></html>
